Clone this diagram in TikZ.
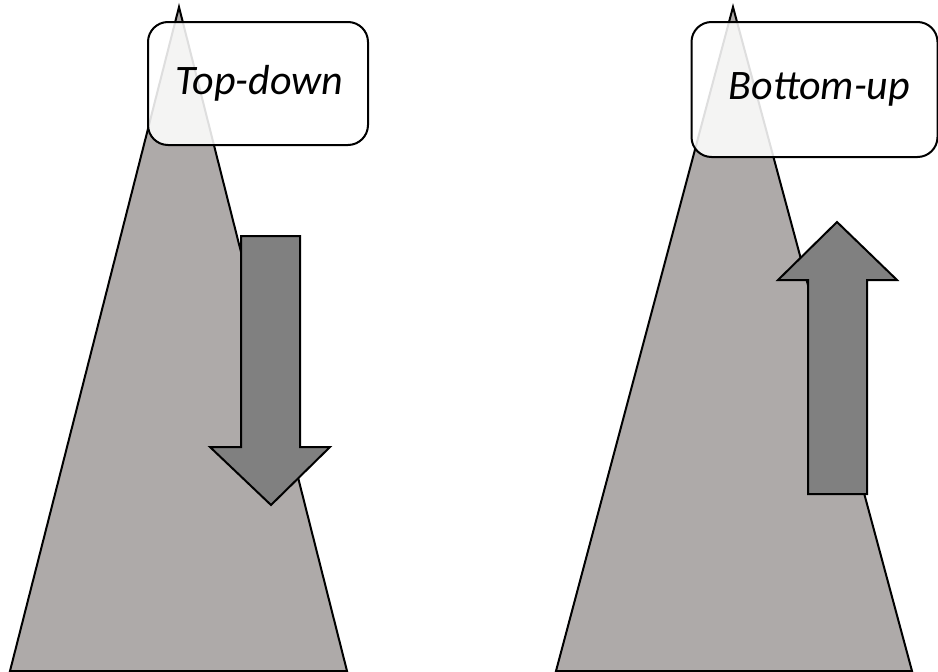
\documentclass[tikz,border=0pt]{standalone}
\usepackage{fontspec}
\setmainfont{Carlito}
\definecolor{slope}{HTML}{AEAAA9}
\definecolor{arrowgray}{HTML}{808080}
\tikzset{
  mountain/.style={fill=slope, draw=black, line width=2pt, line join=miter},
  bigarrow/.style={fill=arrowgray, draw=black, line width=2pt, line join=miter},
  labelbox/.style={draw=black, line width=2pt, rounded corners=20pt, fill=white,
    fill opacity=0.87, text opacity=1, inner sep=0pt, font=\itshape\fontsize{42}{46}\selectfont}
}
\begin{document}
\begin{tikzpicture}[x=1pt, y=-1pt]
\useasboundingbox (0,0) rectangle (938,672);

% left slope with downward arrow
\draw[mountain] (179,7) -- (347,671) -- (10,671) -- cycle;
\draw[bigarrow] (241,236) -- (300,236) -- (300,447) -- (330,447) -- (271,505)
  -- (210,447) -- (241,447) -- cycle;
\node[labelbox, minimum width=220pt, minimum height=123pt] (topdown) at (258,83.5) {\hspace{3pt}Top-down};

% right slope with upward arrow
\draw[mountain] (733,7) -- (912,671) -- (556,671) -- cycle;
\draw[bigarrow] (808,494) -- (867,494) -- (867,280) -- (897,280) -- (837,222)
  -- (778,280) -- (808,280) -- cycle;
\node[labelbox, minimum width=246pt, minimum height=135pt] (bottomup) at (814.5,89.5) {\hspace{10pt}Bottom-up};
\end{tikzpicture}
\end{document}
